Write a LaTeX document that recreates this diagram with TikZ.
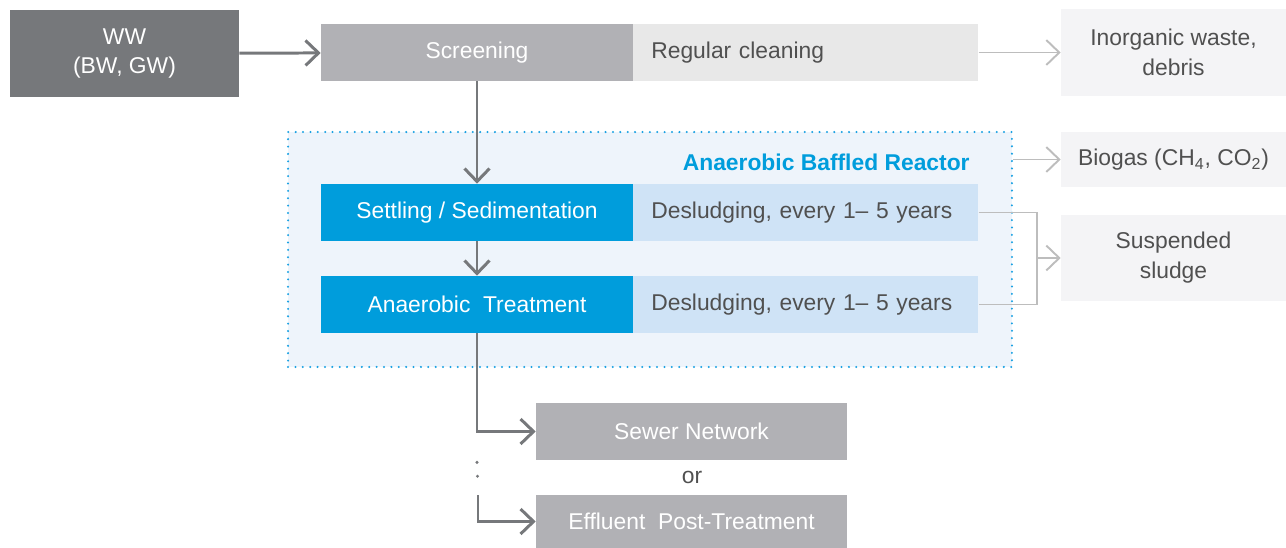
\documentclass[tikz,border=0pt]{standalone}
\usepackage{fontspec}
\setmainfont{Liberation Sans}
\usetikzlibrary{arrows.meta}
\definecolor{wwgray}{HTML}{76787B}
\definecolor{stepgray}{HTML}{B1B1B5}
\definecolor{cleangray}{HTML}{E8E8E8}
\definecolor{outgray}{HTML}{F4F4F6}
\definecolor{abrblue}{HTML}{009DDC}
\definecolor{sludblue}{HTML}{CFE3F6}
\definecolor{abrfill}{HTML}{EEF4FB}
\definecolor{dotblue}{HTML}{1BA1E2}
\definecolor{linegray}{HTML}{BDBDBD}
\definecolor{txtgray}{HTML}{505050}
\begin{document}
\begin{tikzpicture}[x=0.02cm,y=-0.02cm,
    font=\fontsize{13}{17}\selectfont,
    every node/.style={inner sep=0pt,align=center},
    darkbox/.style={fill=wwgray,text=white,minimum width=4.58cm,minimum height=1.74cm},
    graybox/.style={fill=stepgray,text=white,minimum width=6.24cm,minimum height=1.14cm},
    bluebox/.style={fill=abrblue,text=white,minimum width=6.24cm,minimum height=1.14cm},
    notebox/.style={anchor=west,text=txtgray,minimum height=1.14cm,text width=6.18cm,inner xsep=0.36cm,align=left},
    outbox/.style={fill=outgray,text=txtgray,minimum width=4.5cm},
    mainarrow/.style={draw=wwgray,line width=1.7pt,-{Straight Barb[length=2.6mm,width=5mm,line width=1.7pt]}},
    sidearrow/.style={draw=linegray,line width=1.1pt,-{Straight Barb[length=2.6mm,width=5mm,line width=1.1pt]}}]
  \useasboundingbox (0,0) rectangle (1286,548);
  \node[fill=abrfill,draw=dotblue,line width=1.3pt,dash pattern=on 0pt off 4.2pt,line cap=round,
        minimum width=14.48cm,minimum height=4.7cm] (abr) at (650,249.5) {};
  \node[darkbox] (ww) at (124.5,53.5) {WW\\(BW, GW)};
  \node[graybox] (screen) at (477,52.5) {Screening};
  \node[notebox,fill=cleangray] (clean) at (633,52.5) {Regular cleaning};
  \node[outbox,minimum height=1.74cm] (inorg) at (1173.5,52.5) {Inorganic waste,\\debris};
  \node[anchor=east,text=abrblue,font=\fontsize{13}{17}\selectfont\bfseries] (abrtitle) at (970,162) {Anaerobic Baffled Reactor};
  \node[outbox,minimum height=1.1cm] (biogas) at (1173.5,159.5) {Biogas (CH\textsubscript{4}, CO\textsubscript{2})};
  \node[bluebox] (settle) at (477,212.5) {Settling / Sedimentation};
  \node[notebox,fill=sludblue] (slud1) at (633,212.5) {Desludging, every 1– 5 years};
  \node[bluebox] (treat) at (477,304.5) {Anaerobic\ \ Treatment};
  \node[notebox,fill=sludblue] (slud2) at (633,304.5) {Desludging, every 1– 5 years};
  \node[outbox,minimum height=1.72cm] (susp) at (1173.5,258) {Suspended\\sludge};
  \node[graybox,minimum width=6.22cm] (sewer) at (691.5,431.5) {Sewer Network};
  \node[text=txtgray] (or) at (692,477) {or};
  \node[graybox,minimum width=6.22cm,minimum height=1.06cm] (effl) at (691.5,521.5) {Effluent\ \ Post-Treatment};
  \coordinate (brk) at (1037,258);
  \coordinate (dotend) at (478,490);
  \draw[mainarrow] (ww) -- (screen);
  \draw[mainarrow] (screen) -- (settle);
  \draw[mainarrow] (settle) -- (treat);
  \draw[mainarrow] (treat.south) |- (sewer.west);
  \draw[draw=wwgray,line width=1.9pt,dash pattern=on 0pt off 7.95pt,line cap=round] (treat.south |- sewer.south) ++(0,2) -- (dotend);
  \draw[mainarrow] (dotend) ++(0,5) |- (effl.west);
  \draw[sidearrow] (clean) -- (inorg);
  \draw[sidearrow] (abr.east |- biogas.west) -- (biogas.west);
  \draw[draw=linegray,line width=1.1pt] (slud1.east) -| (brk) |- (slud2.east);
  \draw[sidearrow] (brk) -- (susp.west);
\end{tikzpicture}
\end{document}
